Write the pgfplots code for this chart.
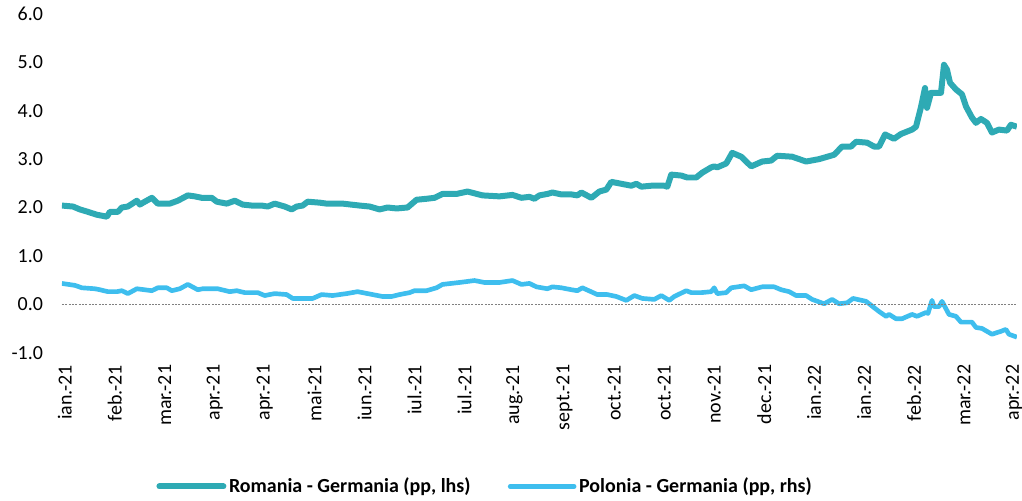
\documentclass[border=0pt]{standalone}
\usepackage{pgfplots}
\pgfplotsset{compat=1.18}
\usepackage{fontspec}
\setmainfont{Carlito}
\definecolor{teal1}{RGB}{46,170,180}
\definecolor{blue1}{RGB}{62,190,238}
\begin{document}
\begin{tikzpicture}
\begin{axis}[
  scale only axis,
  width=717pt, height=254.25pt,
  xmin=62, xmax=1018, ymin=-1, ymax=6,
  axis line style={draw=none},
  tick style={draw=none},
  ytick={-1,0,1,2,3,4,5,6},
  /pgf/number format/fixed,
  /pgf/number format/fixed zerofill,
  /pgf/number format/precision=1,
  /pgf/number format/assume math mode=true,
  every y tick label/.append style={inner sep=0pt, font=\fontsize{15}{18}\selectfont},
  yticklabel shift=14pt,
  xtick={65,115,165,215,265,315,365,415,465,515,565,615,665,715,765,815,865,915,965,1015},
  xticklabels={ian.-21,feb.-21,mar.-21,apr.-21,apr.-21,mai-21,iun.-21,iul.-21,iul.-21,aug.-21,sept.-21,oct.-21,oct.-21,nov.-21,dec.-21,ian.-22,ian.-22,feb.-22,mar.-22,apr.-22},
  every x tick label/.append style={inner sep=0pt, rotate=90, anchor=east, font=\fontsize{15}{18}\selectfont},
  xticklabel shift=9pt,
  legend columns=2,
  legend style={at={(0.5,0)}, anchor=center, xshift=-40.5pt, yshift=-100.5pt, draw=none,
    font=\bfseries\fontsize{15}{18}\selectfont,
    /tikz/every even column/.append style={column sep=26pt},
    nodes={inner sep=2pt}},
  legend image code/.code={\draw[#1, line cap=round] (0pt,0pt) -- (48pt,0pt);},
]
\addplot[teal1, line width=4.5pt, line join=round] coordinates {
(62,2.04) (73,2.02) (80,1.96) (88,1.91) (97,1.85) (107,1.81) (110,1.91) (118,1.91) (122,2.0) (128,2.02) (137,2.14) (140,2.06) (145,2.12) (152,2.2) (158,2.08) (165,2.08) (170,2.08) (178,2.14) (188,2.25) (195,2.23) (202,2.2) (212,2.2) (217,2.12) (227,2.08) (235,2.14) (243,2.06) (252,2.04) (262,2.04) (268,2.02) (275,2.08) (285,2.02) (292,1.96) (297,2.02) (303,2.04) (308,2.12) (320,2.1) (327,2.08) (343,2.08) (360,2.04) (370,2.02) (380,1.96) (388,2.0) (397,1.98) (408,2.0) (417,2.16) (427,2.18) (435,2.2) (443,2.28) (457,2.28) (468,2.33) (483,2.25) (500,2.23) (513,2.26) (522,2.2) (530,2.22) (535,2.18) (540,2.25) (548,2.28) (553,2.31) (562,2.27) (572,2.27) (578,2.25) (582,2.31) (592,2.2) (600,2.33) (607,2.37) (612,2.53) (622,2.49) (632,2.45) (637,2.49) (642,2.43) (652,2.45) (665,2.45) (668,2.43) (672,2.68) (682,2.66) (688,2.62) (697,2.62) (703,2.72) (712,2.83) (715,2.85) (718,2.83) (727,2.91) (733,3.13) (742,3.05) (752,2.85) (763,2.95) (772,2.97) (778,3.07) (793,3.05) (807,2.95) (820,3.0) (835,3.09) (843,3.26) (852,3.26) (857,3.36) (868,3.34) (875,3.26) (880,3.26) (886,3.51) (895,3.42) (902,3.52) (913,3.61) (917,3.67) (922,4.08) (926,4.47) (928,4.06) (932,4.37) (942,4.37) (945,4.95) (948,4.85) (951,4.58) (957,4.44) (963,4.34) (967,4.09) (973,3.86) (977,3.75) (982,3.83) (988,3.75) (993,3.55) (1000,3.61) (1008,3.59) (1012,3.71) (1018,3.67)
};
\addlegendentry{Romania - Germania (pp, lhs)}
\addplot[blue1, line width=3.5pt, line join=round] coordinates {
(62,0.43) (75,0.39) (82,0.34) (95,0.32) (100,0.3) (108,0.26) (117,0.26) (122,0.28) (128,0.22) (137,0.32) (152,0.28) (158,0.34) (167,0.34) (172,0.28) (180,0.32) (188,0.41) (198,0.3) (203,0.32) (218,0.32) (230,0.26) (237,0.28) (245,0.24) (258,0.24) (265,0.18) (275,0.22) (287,0.2) (293,0.12) (303,0.12) (313,0.12) (322,0.2) (333,0.18) (347,0.22) (358,0.26) (368,0.22) (383,0.16) (392,0.16) (400,0.2) (410,0.24) (415,0.28) (427,0.28) (437,0.34) (443,0.41) (460,0.45) (475,0.49) (485,0.45) (500,0.45) (513,0.49) (522,0.41) (530,0.43) (537,0.36) (548,0.32) (553,0.36) (562,0.34) (572,0.3) (578,0.28) (583,0.34) (598,0.2) (608,0.2) (617,0.16) (627,0.08) (635,0.18) (643,0.12) (655,0.1) (662,0.18) (670,0.08) (675,0.16) (687,0.28) (692,0.24) (702,0.24) (712,0.26) (715,0.34) (718,0.22) (727,0.24) (732,0.34) (745,0.38) (752,0.3) (763,0.36) (775,0.36) (782,0.3) (790,0.26) (797,0.18) (807,0.18) (813,0.1) (825,0.01) (833,0.1) (840,0.01) (848,0.03) (854,0.12) (867,0.06) (875,-0.07) (880,-0.15) (887,-0.25) (890,-0.21) (897,-0.3) (903,-0.3) (913,-0.21) (918,-0.25) (927,-0.17) (929,-0.19) (933,0.08) (935,-0.05) (940,-0.05) (943,0.06) (950,-0.21) (957,-0.25) (962,-0.37) (973,-0.37) (977,-0.48) (983,-0.5) (993,-0.62) (1002,-0.56) (1007,-0.52) (1010,-0.62) (1018,-0.68)
};
\addlegendentry{Polonia - Germania (pp, rhs)}
\addplot[gray, line width=0.75pt, dash pattern=on 1.5pt off 1pt, forget plot] coordinates {(62,0) (1018,0)};
\end{axis}
\path (current axis.south west) ++(-46.5pt,-110.25pt) rectangle ++(766.5pt,375pt);
\end{tikzpicture}
\end{document}
